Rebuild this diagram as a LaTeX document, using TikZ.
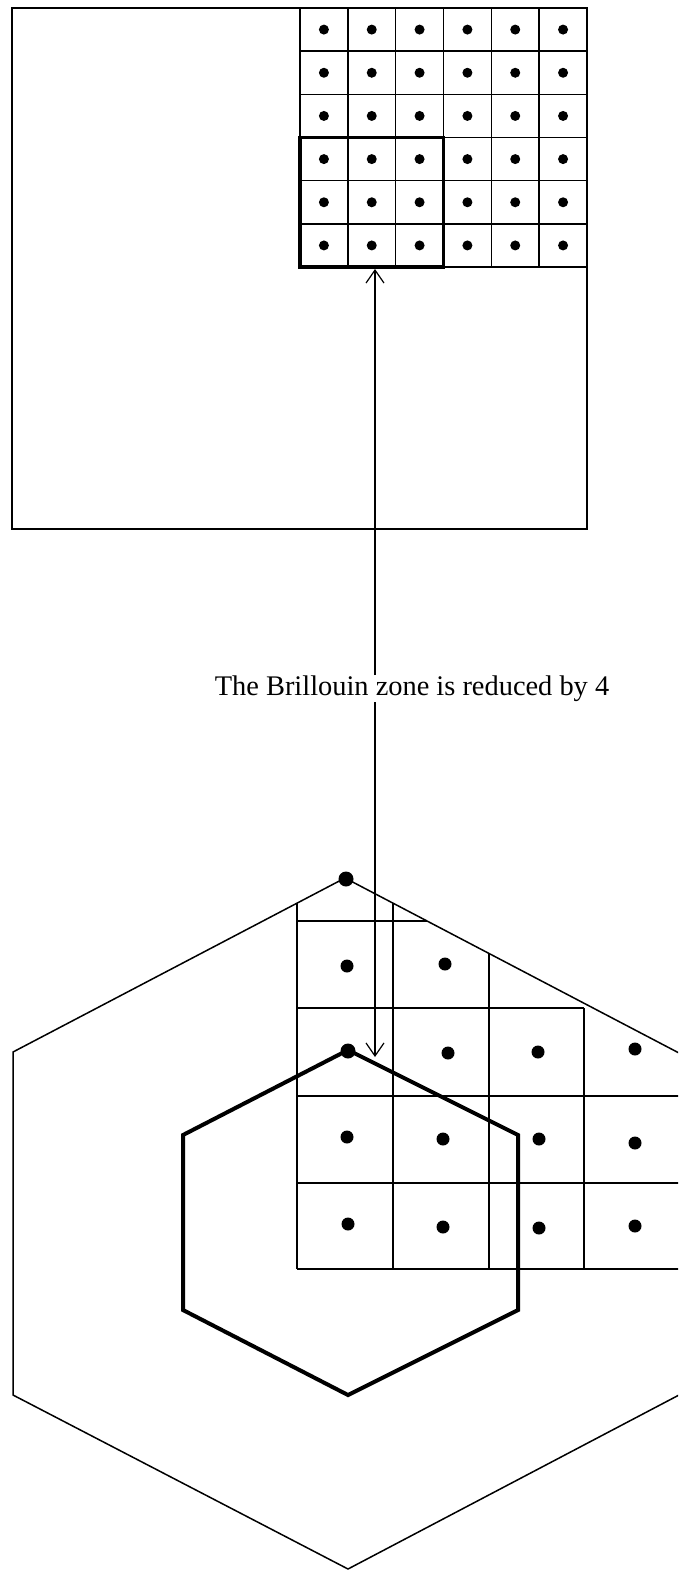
\documentclass[tikz,border=0pt]{standalone}
\usepackage{fontspec}
\setmainfont{Liberation Serif}
\usetikzlibrary{arrows.meta}
\begin{document}
\begin{tikzpicture}[x=1pt,y=-1pt,
  thinline/.style={line width=1.5pt, line join=miter},
  thickline/.style={line width=3.6pt, line join=miter},
  barb/.style={line width=1.2pt, -{Straight Barb[length=13pt,width=18pt,line width=1.2pt]}},
  lbltext/.style={font=\fontsize{28.4}{33}\selectfont, inner sep=0pt}]
\clip (0,0) rectangle (678,1572);
\fill[white] (0,0) rectangle (678,1572);

% ---------- top panel ----------
\draw[thinline] (12,8) rectangle (587,529);
\foreach \i in {0,...,6} {
  \draw[thinline] ({300+47.83*\i},8) -- ({300+47.83*\i},267);
  \draw[thinline] (300,{8+43.17*\i}) -- (587,{8+43.17*\i});
}
\foreach \i in {0,...,5} {
  \foreach \j in {0,...,5} {
    \fill ({300+47.83*(\i+0.5)},{8+43.17*(\j+0.5)}) circle (5);
  }
}
\draw[thickline] (300,137.5) rectangle (443.5,267);

% ---------- label and arrows ----------
\node[lbltext] (lbl) at (412,689) {The Brillouin zone is reduced by 4};
\coordinate (aStart) at (375,675);
\coordinate (topTip) at (375,269);
\coordinate (bStart) at (375,702);
\coordinate (botTip) at (375,1057);
\draw[barb] (aStart) -- (topTip);
\draw[barb] (bStart) -- (botTip);

% ---------- bottom panel ----------
\draw[thinline] (345,878) -- (679,1053) -- (679,1395) -- (348,1569) -- (13,1395) -- (13,1052) -- cycle;
\draw[line width=4pt, line join=miter] (348,1050) -- (518,1135) -- (518,1310) -- (348,1395) -- (183,1310) -- (183,1135) -- cycle;

\draw[thinline] (297,903) -- (297,1269);
\draw[thinline] (393,903) -- (393,1269);
\draw[thinline] (489,953) -- (489,1269);
\draw[thinline] (584,1008) -- (584,1269);
\draw[thinline] (297,921) -- (427,921);
\draw[thinline] (297,1008) -- (584,1008);
\draw[thinline] (297,1096) -- (680,1096);
\draw[thinline] (297,1183) -- (680,1183);
\draw[thinline] (297,1269) -- (680,1269);

\foreach \p in {(347,966),(445,964),
                (448,1053),(538,1052),(635,1049),
                (347,1137),(443,1139),(539,1139),(635,1143),
                (348,1224),(443,1227),(539,1228),(635,1226)} {
  \fill \p circle (6.5);
}
\fill (346,879) circle (7.5);
\fill (348,1051) circle (7.5);
\end{tikzpicture}
\end{document}
